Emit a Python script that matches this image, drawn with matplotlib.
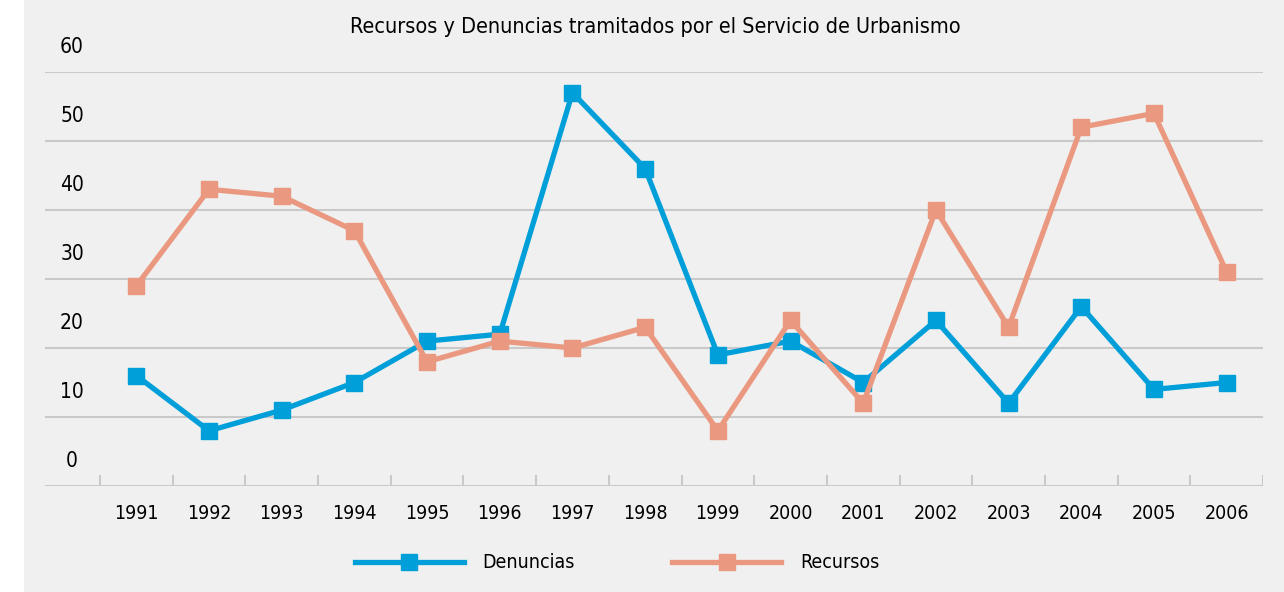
import matplotlib.pyplot as plt
from matplotlib.patches import Rectangle
from matplotlib.transforms import blended_transform_factory

years = list(range(1991, 2007))
denuncias = [16, 8, 11, 15, 21, 22, 57, 46, 19, 21, 15, 24, 12, 26, 14, 15]
recursos = [29, 43, 42, 37, 18, 21, 20, 23, 8, 24, 12, 40, 23, 52, 54, 31]
yticks = [0, 10, 20, 30, 40, 50, 60]

blue = "#009fd9"
salmon = "#ea9880"
bg = "#eff0ef"
grid = "#c9c9c9"

plt.rcParams['font.family'] = ['DejaVu Sans']
plt.rcParams['font.stretch'] = 'condensed'

fig = plt.figure(figsize=(12.84, 5.92), dpi=100)
fig.patch.set_facecolor("white")
fig.patches.append(Rectangle((24 / 1284, 0), 1, 1, transform=fig.transFigure,
                             facecolor=bg, edgecolor="none", zorder=-10))

ax = fig.add_axes([45 / 1284, 1 - 486 / 592, (1263 - 45) / 1284, (486 - 72) / 592])
ax.patch.set_alpha(0)
for s in ax.spines.values():
    s.set_visible(False)

step = (1263 - 100) / 16
ax.set_xlim(1990.5 - (100 - 45) / step, 2006.5)
ax.set_ylim(0, 60)

for v in yticks:
    ax.axhline(v, color=grid, lw=1.5, zorder=1)
# category boundary ticks
for b in range(len(years) + 1):
    ax.plot([1990.5 + b, 1990.5 + b], [0, 1.45], color=grid, lw=1.5, zorder=1)

ax.plot(years, denuncias, color=blue, lw=3.8, marker="s", ms=12, label="Denuncias", zorder=3)
ax.plot(years, recursos, color=salmon, lw=3.8, marker="s", ms=12, label="Recursos", zorder=3)

ax.set_yticks([])
ax.set_xticks(years)
ax.set_xticklabels([str(y) for y in years], fontsize=14)
ax.tick_params(axis="x", length=0, pad=13)

tr = blended_transform_factory(ax.transAxes, ax.transData)
for v in yticks:
    ax.text(27 / 1218, v + 3.6, str(v), transform=tr, fontsize=15, ha="center", va="center")

fig.text(655 / 1284, 1 - 27 / 592, "Recursos y Denuncias tramitados por el Servicio de Urbanismo",
         fontsize=15.5, ha="center", va="center")

fig.legend(loc="center", bbox_to_anchor=(617 / 1284, 1 - 563 / 592), ncol=2, frameon=False,
           fontsize=14, handlelength=5.6, handletextpad=0.98, columnspacing=5.0)

fig.savefig("out.png", dpi=100)
